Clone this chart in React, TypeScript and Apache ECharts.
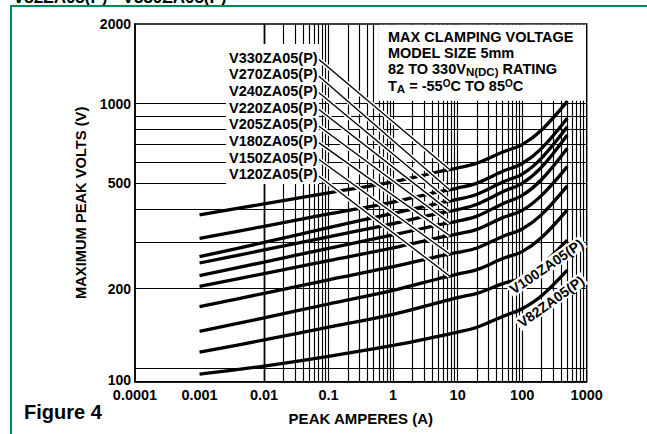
import React, { useEffect, useRef } from "react";
import * as echarts from "echarts";

const FONT = "'Liberation Sans', Arial, Helvetica, sans-serif";
const GREEN = "#00875a";

// Peak current (A) sample points shared by every curve
const currents = [0.001, 0.01, 0.1, 1, 5, 10, 20, 50, 100, 200, 500];
// Maximum peak volts (V)
const v82 = [95, 102, 111, 122, 132, 137, 143, 157, 168, 188, 235];
const v100 = [115, 128, 143, 160, 177, 185, 192, 209, 220, 246, 305];
const v120 = [138, 155, 175, 197, 218, 227, 236, 260, 276, 312, 397];
const v150 = [171, 192, 216, 242, 265, 274, 285, 315, 336, 381, 489];
const v180 = [204, 228, 255, 285, 311, 322, 335, 371, 395, 450, 578];
const v205 = [224, 252, 284, 319, 348, 360, 376, 419, 450, 517, 679];
const v220 = [250, 280, 314, 352, 385, 398, 417, 465, 500, 576, 762];
const v240 = [264, 299, 340, 385, 420, 435, 455, 506, 542, 623, 818];
const v270 = [310, 344, 383, 425, 464, 480, 501, 555, 594, 678, 881];
const v330 = [380, 418, 460, 506, 553, 572, 596, 657, 700, 795, 1020];

const seriesNames = [
  "V82ZA05(P)", "V100ZA05(P)", "V120ZA05(P)", "V150ZA05(P)", "V180ZA05(P)",
  "V205ZA05(P)", "V220ZA05(P)", "V240ZA05(P)", "V270ZA05(P)", "V330ZA05(P)",
];
const seriesValues = [v82, v100, v120, v150, v180, v205, v220, v240, v270, v330];
// series indices listed in the arrow-label column, top to bottom
const arrowLabelOrder = [9, 8, 7, 6, 5, 4, 3, 2];
const ARROW_CURRENT = 7.5;

const xTickValues = [0.0001, 0.001, 0.01, 0.1, 1, 10, 100, 1000];
const xTickLabels = ["0.0001", "0.001", "0.01", "0.1", "1", "10", "100", "1000"];
const Y_MIN = 89;
const Y_MAX = 2000;
// the reference prints its "100" at the bottom edge of the frame
const yTickValues = [90, 200, 500, 1000, 2000];
const yTickLabels = ["100", "200", "500", "1000", "2000"];
const yGridValues = [100, 200, 300, 400, 500, 600, 700, 800, 900, 1000];
const xGridMultipliers = [1, 2, 3, 4, 5, 6, 7, 8, 9];
const xGridDecades = [0.0001, 0.001, 0.01, 0.1, 1, 10, 100];

const xGridValues: number[] = [];
xGridDecades.forEach((d) => xGridMultipliers.forEach((m) => {
  const v = +(d * m).toPrecision(6);
  if (v > 0.0001) xGridValues.push(v);
}));

function nearestLabel(values: number[], labels: string[], v: number) {
  let best = 0;
  let bd = Infinity;
  values.forEach((t, i) => {
    const d = Math.abs(Math.log10(t) - Math.log10(v));
    if (d < bd) { bd = d; best = i; }
  });
  return labels[best];
}

function valueAt(vals: number[], c: number) {
  for (let i = 0; i < currents.length - 1; i++) {
    if (c >= currents[i] && c <= currents[i + 1]) {
      const t = (Math.log10(c) - Math.log10(currents[i])) /
        (Math.log10(currents[i + 1]) - Math.log10(currents[i]));
      return Math.pow(10, Math.log10(vals[i]) + t * (Math.log10(vals[i + 1]) - Math.log10(vals[i])));
    }
  }
  return vals[vals.length - 1];
}

const LABEL_X = 229;
const LABEL_Y0 = 57.5;
const LABEL_STEP = 16.67;
const ARROW_START_X = 319;

const arrowData = arrowLabelOrder.map((si, k) => [
  { x: ARROW_START_X, y: LABEL_Y0 + k * LABEL_STEP + 2 },
  { coord: [ARROW_CURRENT, valueAt(seriesValues[si], ARROW_CURRENT)] },
]);

const boldText = { fontFamily: FONT, fontWeight: "bold" as const, fill: "#000" };

function buildOption(): any {
  const curveSeries = seriesValues.map((vals, i) => ({
    type: "line",
    name: seriesNames[i],
    data: currents.map((c, j) => [c, vals[j]]),
    smooth: 0.35,
    showSymbol: false,
    silent: true,
    z: 3,
    lineStyle: { color: "#000", width: 3.3 },
  }));

  const gridSeries = {
    type: "line",
    name: "grid",
    data: [],
    z: 1,
    silent: true,
    markLine: {
      z: 1,
      silent: true,
      symbol: "none",
      animation: false,
      label: { show: false },
      emphasis: { disabled: true },
      lineStyle: { color: "#000", width: 1.15, type: "solid" },
      data: [
        ...xGridValues.map((v) => ({ xAxis: v })),
        ...yGridValues.map((v) => ({ yAxis: v })),
      ],
    },
  };

  const haloSeries = {
    type: "line",
    name: "arrowHalo",
    data: [],
    z: 4,
    silent: true,
    markLine: {
      z: 4,
      silent: true,
      symbol: "none",
      animation: false,
      label: { show: false },
      emphasis: { disabled: true },
      lineStyle: { color: "#fff", width: 4.5, type: "solid" },
      data: arrowData,
    },
  };

  const arrowSeries = {
    type: "line",
    name: "arrows",
    data: [],
    z: 4,
    silent: true,
    markLine: {
      z: 4.5,
      silent: true,
      symbol: ["none", "triangle"],
      symbolSize: [0, 11],
      animation: false,
      label: { show: false },
      emphasis: { disabled: true },
      lineStyle: { color: "#000", width: 1.3, type: "solid" },
      data: arrowData,
    },
  };

  const labelTexts = arrowLabelOrder.map((si, k) => ({
    type: "text",
    x: LABEL_X,
    y: LABEL_Y0 + k * LABEL_STEP,
    z: 6,
    silent: true,
    style: { ...boldText, text: seriesNames[si], fontSize: 14.5, align: "left", verticalAlign: "middle" },
  }));

  const richBase = {
    m: { fontSize: 14.5, fontWeight: "bold", fontFamily: FONT, lineHeight: 16, fill: "#000" },
    s: { fontSize: 11.5, fontWeight: "bold", fontFamily: FONT, lineHeight: 1, verticalAlign: "top", padding: [5.5, 0, 0, 0], fill: "#000" },
    u: { fontSize: 10, fontWeight: "bold", fontFamily: FONT, lineHeight: 1, verticalAlign: "top", padding: [0.5, 0, 0, 0], fill: "#000" },
  };

  const INFO_X = 388;
  const infoLines = [
    { text: "{m|MAX CLAMPING VOLTAGE}", y: 36.7 },
    { text: "{m|MODEL SIZE 5mm}", y: 52.6 },
    { text: "{m|82 TO 330V}{s|N(DC)}{m| RATING}", y: 68.5 },
    { text: "{m|T}{s|A}{m| = -55}{u|O}{m|C TO 85}{u|O}{m|C}", y: 85.8 },
  ];

  const graphic: any[] = [
    {
      type: "text", x: 13, y: -3, z: 10, silent: true,
      style: { ...boldText, text: "V82ZA05(P) - V330ZA05(P)", fontSize: 17, align: "left", verticalAlign: "middle" },
    },
    { type: "line", z: 10, silent: true, shape: { x1: 10, y1: 6, x2: 647, y2: 6 }, style: { stroke: GREEN, lineWidth: 2 } },
    { type: "line", z: 10, silent: true, shape: { x1: 11, y1: 5, x2: 11, y2: 434 }, style: { stroke: GREEN, lineWidth: 2 } },
    { type: "rect", z: 2, silent: true, shape: { x: 226, y: 44, width: 93, height: 140 }, style: { fill: "#fff" } },
    { type: "rect", z: 2, silent: true, shape: { x: 379, y: 24.8, width: 207, height: 76 }, style: { fill: "#fff" } },
    ...labelTexts,
    ...infoLines.map((l) => ({
      type: "text", x: INFO_X, y: l.y, z: 6, silent: true,
      style: { text: l.text, rich: richBase, align: "left", verticalAlign: "middle", fill: "#000" },
    })),
    {
      type: "text", x: 546.5, y: 266.5, rotation: (34.5 * Math.PI) / 180, z: 6, silent: true,
      style: { ...boldText, text: seriesNames[1], fontSize: 14, align: "center", verticalAlign: "middle", backgroundColor: "#fff", padding: [0, 2] },
    },
    {
      type: "text", x: 551, y: 301.5, rotation: (35.5 * Math.PI) / 180, z: 6, silent: true,
      style: { ...boldText, text: seriesNames[0], fontSize: 14, align: "center", verticalAlign: "middle", backgroundColor: "#fff", padding: [0, 2] },
    },
    {
      type: "text", x: 24, y: 412, z: 6, silent: true,
      style: { ...boldText, text: "Figure 4", fontSize: 20, align: "left", verticalAlign: "middle" },
    },
  ];

  return {
    animation: false,
    backgroundColor: "#fff",
    textStyle: { fontFamily: FONT },
    grid: {
      left: 135, right: 60.3, top: 24, bottom: 52.3,
      show: true, borderColor: "#000", borderWidth: 1.5, backgroundColor: "transparent",
    },
    xAxis: {
      type: "log",
      logBase: 10,
      min: 0.0001,
      max: 1000,
      name: "PEAK AMPERES (A)",
      nameLocation: "middle",
      nameGap: 29,
      nameTextStyle: { fontFamily: FONT, fontWeight: "bold", fontSize: 15, color: "#000" },
      axisLine: { show: true, onZero: false, lineStyle: { color: "#000", width: 1.5 } },
      axisTick: { show: false },
      splitLine: { show: false },
      minorSplitLine: { show: false },
      axisLabel: {
        customValues: xTickValues,
        formatter: (v: number) => nearestLabel(xTickValues, xTickLabels, v),
        fontFamily: FONT, fontWeight: "bold", fontSize: 14.5, color: "#000", margin: 6,
        showMinLabel: true, showMaxLabel: true,
      },
    },
    yAxis: {
      type: "log",
      logBase: 10,
      min: Y_MIN,
      max: Y_MAX,
      name: "MAXIMUM PEAK VOLTS (V)",
      nameLocation: "middle",
      nameGap: 44,
      nameTextStyle: { fontFamily: FONT, fontWeight: "bold", fontSize: 14.7, color: "#000" },
      axisLine: { show: true, onZero: false, lineStyle: { color: "#000", width: 1.5 } },
      axisTick: { show: false },
      splitLine: { show: false },
      minorSplitLine: { show: false },
      axisLabel: {
        customValues: yTickValues,
        formatter: (v: number) => nearestLabel(yTickValues, yTickLabels, v),
        fontFamily: FONT, fontWeight: "bold", fontSize: 14, color: "#000", margin: 4,
        showMinLabel: true, showMaxLabel: true,
      },
    },
    series: [gridSeries, ...curveSeries, haloSeries, arrowSeries],
    graphic,
  };
}

export default function App() {
  const ref = useRef<HTMLDivElement>(null);
  useEffect(() => {
    document.body.style.margin = "0";
    const chart = echarts.init(ref.current as HTMLDivElement, null, { renderer: "svg" });
    chart.setOption(buildOption());
    return () => chart.dispose();
  }, []);
  return <div ref={ref} style={{ width: 647, height: 434 }} />;
}
